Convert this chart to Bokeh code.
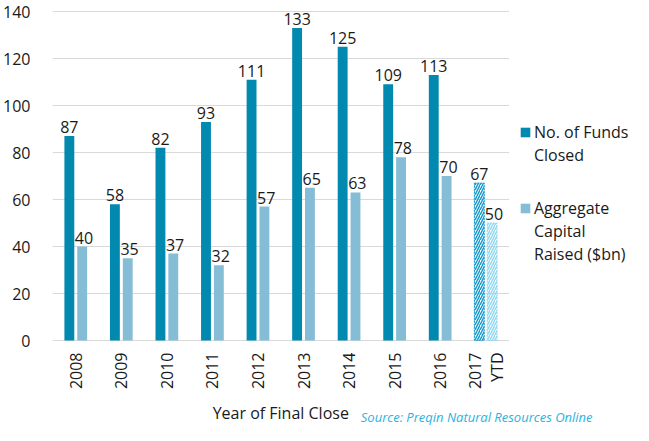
import math
from bokeh.plotting import figure
from bokeh.models import ColumnDataSource, Legend, LegendItem, Range1d
from bokeh.core.properties import value
from bokeh.embed import file_html
from bokeh.resources import INLINE

years = ["2008", "2009", "2010", "2011", "2012", "2013", "2014", "2015", "2016", "2017"]
year_labels = ["2008", "2009", "2010", "2011", "2012", "2013", "2014", "2015", "2016", "2017\nYTD"]
funds_closed = [87, 58, 82, 93, 111, 133, 125, 109, 113, 67]
capital_raised = [40, 35, 37, 32, 57, 65, 63, 78, 70, 50]
is_ytd = [False] * 9 + [True]
y_ticks = [0, 20, 40, 60, 80, 100, 120, 140]
legend_lines_funds = ["No. of Funds", "Closed"]
legend_lines_cap = ["Aggregate", "Capital", "Raised ($bn)"]
x_title = "Year of Final Close"
source_text = "Source: Preqin Natural Resources Online"

FONT = "Open Sans"
TXT = "#1a1a1a"
C_FUNDS = "#0289b0"
C_CAP = "#86bdd6"
C_FUNDS_H = "#1a9ccc"
C_CAP_H = "#95d8f0"
GRID = "#d9d9d9"

# layout constants (pixels)
FIG_W, FIG_H = 633, 425
LEFT = 45
CAT_PX = 46.1
Y0_PX, Y140_PX = 340, 11          # pixel rows of 0 and 140 inside the figure
ppu = (Y0_PX - Y140_PX) / 140.0
x_start = -0.5 - 0.5 / CAT_PX
x_end = x_start + (FIG_W - LEFT) / CAT_PX
y_end = 140 + Y140_PX / ppu
y_start = -(FIG_H - Y0_PX) / ppu
grid_x1 = len(years) - 0.5 + 0.5 / CAT_PX

idx = list(range(len(years)))
OFF = 0.141
W = 0.217

def subset(flag):
    sel = [i for i in idx if is_ytd[i] == flag]
    return ColumnDataSource(dict(
        xf=[i - OFF for i in sel], xc=[i + OFF for i in sel], xcl=[i + OFF + 0.04 for i in sel],
        funds=[funds_closed[i] for i in sel], cap=[capital_raised[i] for i in sel],
        fl=[str(funds_closed[i]) for i in sel], cl=[str(capital_raised[i]) for i in sel]))

full = subset(False)
ytd = subset(True)

p = figure(width=FIG_W, height=FIG_H, x_range=Range1d(x_start, x_end), y_range=Range1d(y_start, y_end),
           output_backend="svg", toolbar_location=None, x_axis_location=None,
           min_border=0, min_border_left=LEFT, min_border_right=0, min_border_top=0, min_border_bottom=0)
p.outline_line_color = None
p.background_fill_color = "white"
p.border_fill_color = "white"
p.grid.visible = False

# gridlines over the category area only
p.segment(x0=[x_start] * len(y_ticks), x1=[grid_x1] * len(y_ticks), y0=y_ticks, y1=y_ticks,
          line_color=GRID, line_width=1)

r1 = p.vbar(x="xf", top="funds", width=W, source=full, fill_color=C_FUNDS, line_color=None)
r2 = p.vbar(x="xc", top="cap", width=W, source=full, fill_color=C_CAP, line_color=None)
p.vbar(x="xf", top="funds", width=W, source=ytd, fill_color="white", fill_alpha=0,
       hatch_pattern="/", hatch_color=C_FUNDS_H, hatch_scale=5, hatch_weight=1.5,
       line_color=C_FUNDS_H, line_width=1, line_dash="2 1")
p.vbar(x="xc", top="cap", width=W, source=ytd, fill_color="white", fill_alpha=0,
       hatch_pattern="/", hatch_color=C_CAP_H, hatch_scale=5, hatch_weight=1.5,
       line_color=C_CAP_H, line_width=1, line_dash="2 1")

for src in (full, ytd):
    p.text(x="xf", y="funds", text="fl", source=src, text_align="center", text_baseline="bottom",
           y_offset=-3, text_font=value(FONT), text_font_size="16px", text_color=TXT)
    p.text(x="xcl", y="cap", text="cl", source=src, text_align="center", text_baseline="bottom",
           y_offset=-3, text_font=value(FONT), text_font_size="16px", text_color=TXT)

# category labels, rotated to read bottom-to-top
p.text(x=idx, y=[0] * len(idx), text=year_labels, angle=math.pi / 2, y_offset=12,
       text_align="right", text_baseline="middle", text_font=value(FONT),
       text_font_size="16px", text_color=TXT, text_line_height=1.0)

# axis title centred under the categories
p.text(x=[(len(years) - 1) / 2], y=[0], text=[x_title], y_offset=72, text_align="center",
       text_baseline="middle", text_font=value(FONT), text_font_size="16px", text_color=TXT)

# source note
p.text(x=[(365 - 53.5) / CAT_PX - 0.5], y=[0], text=[source_text], y_offset=85,
       text_align="left", text_baseline="bottom", text_font=value(FONT), text_font_size="13px",
       text_font_style="italic", text_color="#29b4e0")

p.yaxis.ticker = y_ticks
p.yaxis.axis_line_color = None
p.yaxis.major_tick_line_color = None
p.yaxis.minor_tick_line_color = None
p.yaxis.major_label_text_font = FONT
p.yaxis.major_label_text_font_size = "16px"
p.yaxis.major_label_text_color = TXT
p.yaxis.major_label_standoff = 16

def make_legend(lines, rend, loc):
    items = [LegendItem(label=lines[0], renderers=[rend])]
    items += [LegendItem(label=t, renderers=[]) for t in lines[1:]]
    return Legend(items=items, location=loc, orientation="vertical",
                  label_text_font=FONT, label_text_font_size="16px", label_text_color=TXT,
                  label_height=20, glyph_width=12, glyph_height=12,
                  spacing=1, padding=0, margin=0, label_standoff=3,
                  border_line_color=None, background_fill_alpha=0)

p.add_layout(make_legend(legend_lines_funds, r1, (467, 259)), "center")
p.add_layout(make_legend(legend_lines_cap, r2, (467, 160)), "center")

html = file_html(p, INLINE)
open("out.html", "w").write(html)
